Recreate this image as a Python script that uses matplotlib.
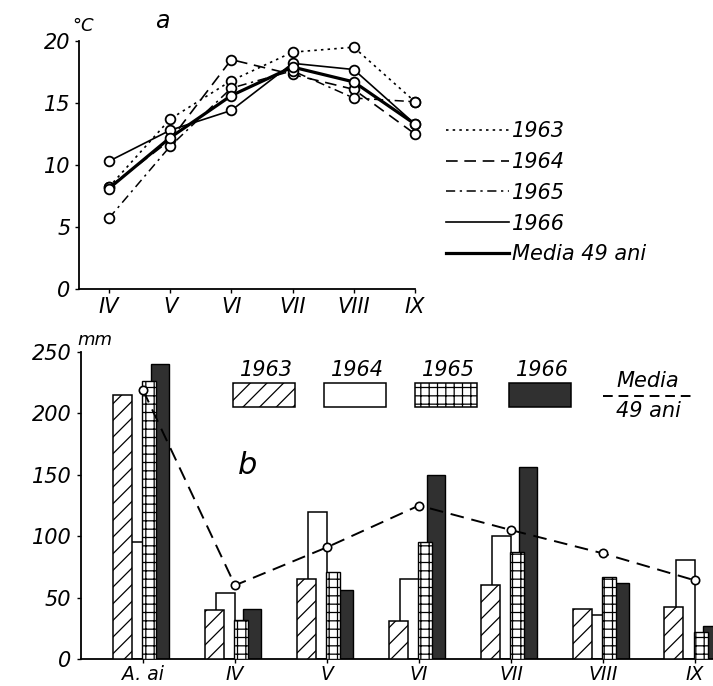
import matplotlib
matplotlib.use('Agg')
import matplotlib.pyplot as plt
import numpy as np
from matplotlib.patches import Rectangle
from matplotlib.lines import Line2D

plt.rcParams['font.family'] = ['DejaVu Sans']
plt.rcParams['hatch.linewidth'] = 0.9

# ---- data: panel a (temperature) ----
months_top = ['IV', 'V', 'VI', 'VII', 'VIII', 'IX']
t1963 = [8.2, 13.7, 16.8, 19.1, 19.5, 15.1]
t1964 = [8.2, 12.0, 18.5, 17.3, 16.1, 12.5]
t1965 = [5.7, 11.5, 16.2, 17.6, 15.4, 15.1]
t1966 = [10.3, 12.8, 14.4, 18.2, 17.7, 13.3]
t_media = [8.1, 12.2, 15.6, 17.9, 16.7, 13.3]
top_yticks = [0, 5, 10, 15, 20]

# ---- data: panel b (precipitation) ----
groups = ['A. ai', 'IV', 'V', 'VI', 'VII', 'VIII', 'IX']
p1963 = [215, 40, 65, 31, 60, 41, 42]
p1964 = [95, 54, 120, 65, 100, 36, 81]
p1965 = [226, 32, 71, 95, 87, 67, 22]
p1966 = [240, 41, 56, 150, 156, 62, 27]
p_media = [219, 60, 91, 125, 105, 86, 64]
bot_yticks = [0, 50, 100, 150, 200, 250]
years = ['1963', '1964', '1965', '1966']

W, H = 713, 686
fig = plt.figure(figsize=(W / 100, H / 100), dpi=100)


def fx(x):
    return x / W


def fy(y):
    return 1 - y / H


FS = 15
ital = dict(style='italic', color='black')

# ================= panel a =================
ax1 = fig.add_axes([fx(79), fy(289), fx(415 - 79), (289 - 41) / H])
x = np.arange(len(months_top))
mk = dict(marker='o', markersize=7, markerfacecolor='white', markeredgecolor='black',
          markeredgewidth=1.3, color='black', clip_on=False)
ax1.plot(x, t1963, linestyle=(0, (1.5, 2.5)), lw=1.2, label='1963', zorder=3, **mk)
ax1.plot(x, t1964, linestyle=(0, (7, 4)), lw=1.2, label='1964', zorder=3, **mk)
ax1.plot(x, t1965, linestyle=(0, (6, 3, 1.5, 3)), lw=1.1, label='1965', zorder=3, **mk)
ax1.plot(x, t1966, linestyle='-', lw=1.2, label='1966', zorder=4, **mk)
ax1.plot(x, t_media, linestyle='-', lw=2.3, label='Media 49 ani', zorder=5, **mk)
ax1.set_xlim(-30 / 61.6, (415 - 109) / 61.6)
ax1.set_ylim(0, 20)
ax1.set_xticks(x)
ax1.set_xticklabels(months_top, fontsize=FS, **ital)
ax1.set_yticks(top_yticks)
ax1.set_yticklabels([str(v) for v in top_yticks], fontsize=FS, **ital)
ax1.tick_params(axis='both', direction='out', length=3, width=1.0, pad=3)
for s in ['top', 'right']:
    ax1.spines[s].set_visible(False)
for s in ['left', 'bottom']:
    ax1.spines[s].set_linewidth(1.3)

leg1 = ax1.legend(loc='upper left', bbox_to_anchor=(fx(446), fy(121)),
                  bbox_transform=fig.transFigure, frameon=False,
                  prop=dict(size=FS, style='italic'), handlelength=3.0,
                  handletextpad=0.15, labelspacing=0.52, borderaxespad=0, borderpad=0)
for h in leg1.get_lines():
    h.set_marker('')

fig.text(fx(72), fy(26), '°C', fontsize=13, va='center', ha='left', **ital)
fig.text(fx(162), fy(21), 'a', fontsize=FS + 2, va='center', ha='center', **ital)

# ================= panel b =================
ax2 = fig.add_axes([fx(81), fy(659), 1 - fx(81), (659 - 352) / H])
g = np.arange(len(groups))
sp = 92.0
ax2.bar(g - 10 / sp, p1964, width=19 / sp, facecolor='white', edgecolor='black',
        linewidth=1.1, zorder=2)
ax2.bar(g - 21 / sp, p1963, width=19 / sp, facecolor='white', edgecolor='black',
        hatch='//', linewidth=1.1, zorder=3)
ax2.bar(g + 17 / sp, p1966, width=18 / sp, facecolor='#303030', edgecolor='black',
        linewidth=1.0, zorder=2.5)
ax2.bar(g + 6 / sp, p1965, width=14 / sp, facecolor='white', edgecolor='black',
        hatch='++', linewidth=1.0, zorder=3.5)
ax2.plot(g, p_media, linestyle=(0, (7, 4)), color='black', lw=1.4, marker='o',
         markersize=6, markerfacecolor='white', markeredgecolor='black',
         markeredgewidth=1.2, zorder=6)
ax2.set_xlim((81 - 143) / sp, (713 - 143) / sp)
ax2.set_ylim(0, 250)
ax2.set_xticks(g)
ax2.set_xticklabels(groups, fontsize=13.5, **ital)
ax2.set_yticks(bot_yticks)
ax2.set_yticklabels([str(v) for v in bot_yticks], fontsize=FS, **ital)
ax2.tick_params(axis='y', direction='out', length=3, width=1.0, pad=4)
ax2.tick_params(axis='x', direction='out', length=3, width=1.0, pad=1.5)
for s in ['top', 'right']:
    ax2.spines[s].set_visible(False)
for s in ['left', 'bottom']:
    ax2.spines[s].set_linewidth(1.3)

fig.text(fx(77), fy(340), 'mm', fontsize=13, va='center', ha='left', **ital)
fig.text(fx(248), fy(465), 'b', fontsize=22, va='center', ha='center', **ital)

# legend of panel b (boxes with labels above)
leg_boxes = [(233, dict(facecolor='white', hatch='//')),
             (324, dict(facecolor='white')),
             (415, dict(facecolor='white', hatch='++')),
             (509, dict(facecolor='#303030'))]
for (x0, st), yr in zip(leg_boxes, years):
    r = Rectangle((fx(x0), fy(407)), fx(62), (407 - 383) / H, transform=fig.transFigure,
                  edgecolor='black', linewidth=1.1, **st)
    fig.add_artist(r)
    fig.text(fx(x0 + 33), fy(370), yr, fontsize=FS, ha='center', va='center', **ital)

fig.add_artist(Line2D([fx(603), fx(693)], [fy(396), fy(396)], transform=fig.transFigure,
                      color='black', lw=1.4, linestyle=(0, (5, 3))))
fig.text(fx(648), fy(381), 'Media', fontsize=FS, ha='center', va='center', **ital)
fig.text(fx(648), fy(411), '49 ani', fontsize=FS, ha='center', va='center', **ital)

fig.savefig('out.png', dpi=100)
